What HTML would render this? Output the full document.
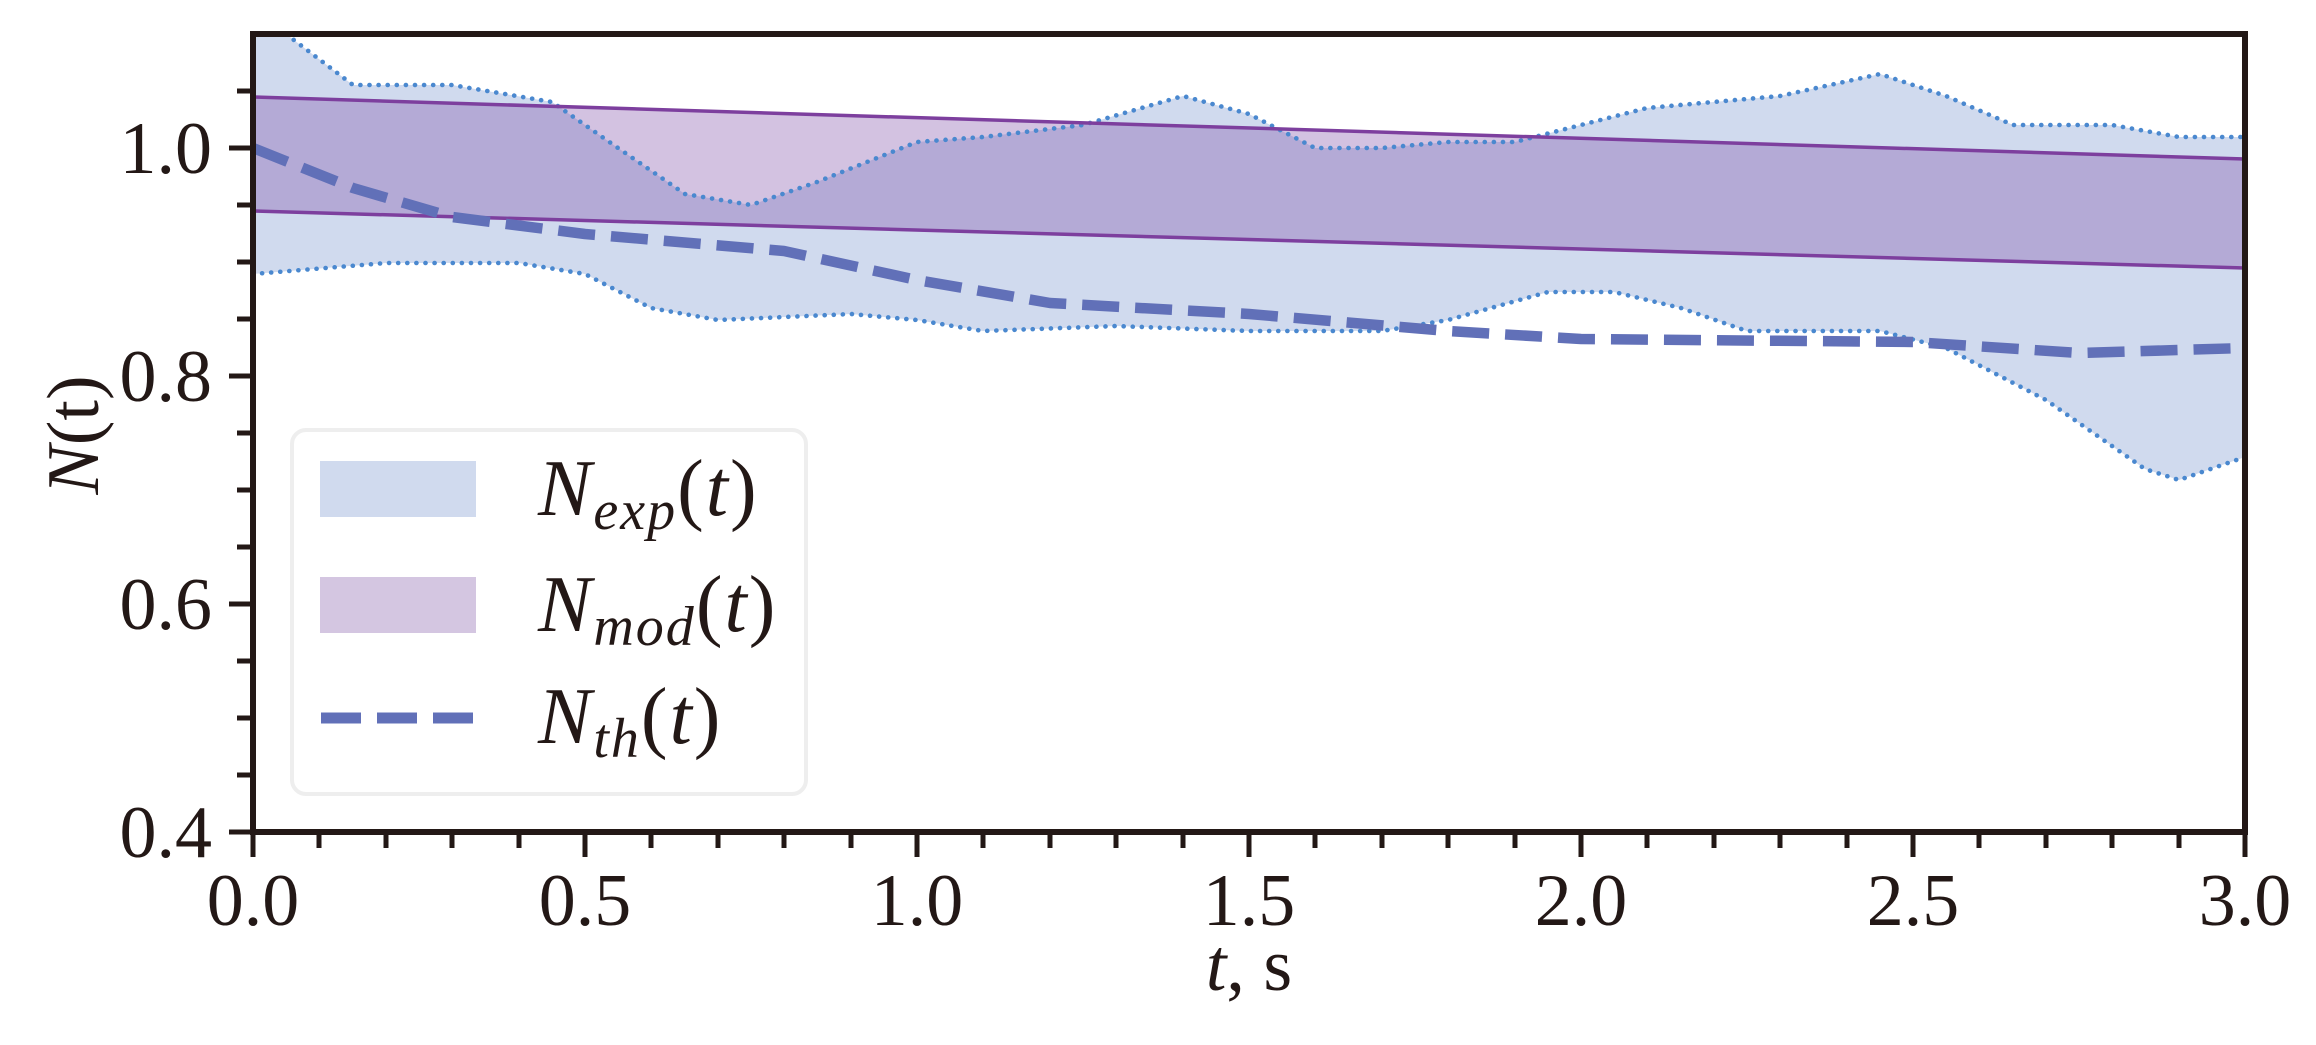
<!DOCTYPE html>
<html><head><meta charset="utf-8"><style>
html,body{margin:0;padding:0;background:#fff;}
svg{display:block;}
text{font-family:"Liberation Serif",serif;fill:#231816;}
</style></head><body>
<svg width="2316" height="1045" viewBox="0 0 2316 1045" xmlns="http://www.w3.org/2000/svg">
<defs><clipPath id="c"><rect x="253" y="34" width="1992" height="798"/></clipPath></defs>
<g clip-path="url(#c)">
<path fill="#d0daee" d="M253,20 L286,34 L353,85 L452,85 L552,102 L618,148 L685,194 L751,205 L817,182 L917,142 L983,137 L1083,125 L1183,96 L1249,114 L1315,148 L1382,148 L1448,142 L1515,142 L1581,125 L1647,108 L1780,96 L1880,74 L1946,96 L2013,125 L2112,125 L2179,137 L2245,137 L2245,457 L2179,480 L2145,469 L2046,400 L1946,348 L1880,331 L1747,331 L1681,308 L1614,292 L1548,292 L1448,320 L1382,331 L1249,331 L1116,326 L983,331 L917,320 L851,314 L718,320 L651,308 L585,274 L519,263 L386,263 L253,274 Z"/>
<path fill="rgb(128,80,170)" fill-opacity="0.35" d="M253,97 L2245,159 L2245,268 L253,211 Z"/>
<g fill="none" stroke="#4a88cf" stroke-width="4.6" stroke-linecap="round" stroke-dasharray="0.1 9" stroke-linejoin="round">
<polyline points="253,20 286,34 353,85 452,85 552,102 618,148 685,194 751,205 817,182 917,142 983,137 1083,125 1183,96 1249,114 1315,148 1382,148 1448,142 1515,142 1581,125 1647,108 1780,96 1880,74 1946,96 2013,125 2112,125 2179,137 2245,137"/>
<polyline points="253,274 386,263 519,263 585,274 651,308 718,320 851,314 917,320 983,331 1116,326 1249,331 1382,331 1448,320 1548,292 1614,292 1681,308 1747,331 1880,331 1946,348 2046,400 2145,469 2179,480 2245,457"/>
</g>
<g stroke="#7d3f9e" stroke-width="3.5">
<line x1="253" y1="97" x2="2245" y2="159"/>
<line x1="253" y1="211" x2="2245" y2="268"/>
</g>
<polyline fill="none" stroke="#6170b8" stroke-width="10.5" stroke-dasharray="37 16" stroke-linejoin="round" points="253,148 353,188 452,217 585,234 784,251 917,280 1050,303 1249,314 1448,331 1581,339 1913,342 2079,353 2245,348"/>
</g>
<rect x="292" y="430" width="514" height="364" rx="14" ry="14" fill="#fff" fill-opacity="0.85" stroke="#eeeeee" stroke-width="4"/>
<rect x="320" y="461" width="156" height="56" fill="#d0daee"/>
<rect x="320" y="577" width="156" height="56" fill="#d4c6e1"/>
<line x1="321" y1="718" x2="474" y2="718" stroke="#6170b8" stroke-width="11" stroke-dasharray="40 16"/>
<g font-size="80" letter-spacing="2">
<text x="538" y="515"><tspan font-style="italic">N</tspan><tspan font-style="italic" font-size="56" dy="14">exp</tspan><tspan dy="-14">(</tspan><tspan font-style="italic">t</tspan>)</text>
<text x="538" y="631"><tspan font-style="italic">N</tspan><tspan font-style="italic" font-size="56" dy="14">mod</tspan><tspan dy="-14">(</tspan><tspan font-style="italic">t</tspan>)</text>
<text x="538" y="743"><tspan font-style="italic">N</tspan><tspan font-style="italic" font-size="56" dy="14">th</tspan><tspan dy="-14">(</tspan><tspan font-style="italic">t</tspan>)</text>
</g>
<rect x="253" y="34" width="1992" height="798" fill="none" stroke="#231816" stroke-width="6"/>
<g stroke="#231816" stroke-width="5">
<line x1="229" y1="832" x2="253" y2="832"/><line x1="229" y1="604" x2="253" y2="604"/><line x1="229" y1="376" x2="253" y2="376"/><line x1="229" y1="148" x2="253" y2="148"/>
<line x1="237" y1="775" x2="253" y2="775"/><line x1="237" y1="718" x2="253" y2="718"/><line x1="237" y1="661" x2="253" y2="661"/>
<line x1="237" y1="547" x2="253" y2="547"/><line x1="237" y1="490" x2="253" y2="490"/><line x1="237" y1="433" x2="253" y2="433"/>
<line x1="237" y1="319" x2="253" y2="319"/><line x1="237" y1="262" x2="253" y2="262"/><line x1="237" y1="205" x2="253" y2="205"/>
<line x1="237" y1="91" x2="253" y2="91"/>
</g>
<g stroke="#231816" stroke-width="5">
<line x1="253" y1="832" x2="253" y2="857"/><line x1="585" y1="832" x2="585" y2="857"/><line x1="917" y1="832" x2="917" y2="857"/><line x1="1249" y1="832" x2="1249" y2="857"/><line x1="1581" y1="832" x2="1581" y2="857"/><line x1="1913" y1="832" x2="1913" y2="857"/><line x1="2245" y1="832" x2="2245" y2="857"/>
<line x1="319" y1="832" x2="319" y2="848"/><line x1="386" y1="832" x2="386" y2="848"/><line x1="452" y1="832" x2="452" y2="848"/><line x1="519" y1="832" x2="519" y2="848"/>
<line x1="651" y1="832" x2="651" y2="848"/><line x1="718" y1="832" x2="718" y2="848"/><line x1="784" y1="832" x2="784" y2="848"/><line x1="851" y1="832" x2="851" y2="848"/>
<line x1="983" y1="832" x2="983" y2="848"/><line x1="1050" y1="832" x2="1050" y2="848"/><line x1="1116" y1="832" x2="1116" y2="848"/><line x1="1183" y1="832" x2="1183" y2="848"/>
<line x1="1315" y1="832" x2="1315" y2="848"/><line x1="1382" y1="832" x2="1382" y2="848"/><line x1="1448" y1="832" x2="1448" y2="848"/><line x1="1515" y1="832" x2="1515" y2="848"/>
<line x1="1647" y1="832" x2="1647" y2="848"/><line x1="1714" y1="832" x2="1714" y2="848"/><line x1="1780" y1="832" x2="1780" y2="848"/><line x1="1847" y1="832" x2="1847" y2="848"/>
<line x1="1979" y1="832" x2="1979" y2="848"/><line x1="2046" y1="832" x2="2046" y2="848"/><line x1="2112" y1="832" x2="2112" y2="848"/><line x1="2179" y1="832" x2="2179" y2="848"/>
</g>
<g font-size="74" text-anchor="end">
<text x="212" y="857">0.4</text><text x="212" y="629">0.6</text><text x="212" y="401">0.8</text><text x="212" y="173">1.0</text>
</g>
<g font-size="74" text-anchor="middle">
<text x="253" y="925">0.0</text><text x="585" y="925">0.5</text><text x="917" y="925">1.0</text><text x="1249" y="925">1.5</text><text x="1581" y="925">2.0</text><text x="1913" y="925">2.5</text><text x="2245" y="925">3.0</text>
</g>
<text x="1249" y="990" font-size="74" text-anchor="middle"><tspan font-style="italic">t</tspan>, s</text>
<text transform="translate(98,435) rotate(-90)" font-size="74" text-anchor="middle"><tspan font-style="italic">N</tspan>(t)</text>
</svg>
</body></html>
